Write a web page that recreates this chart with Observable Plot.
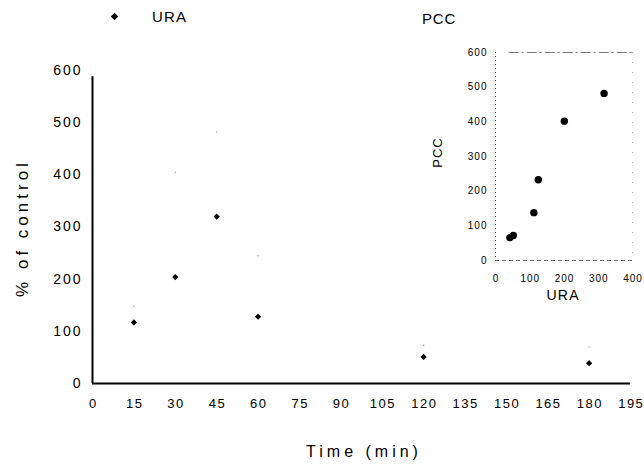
<!DOCTYPE html>
<html>
<head>
<meta charset="utf-8">
<script src="https://cdn.jsdelivr.net/npm/d3@7"></script>
<script src="https://cdn.jsdelivr.net/npm/@observablehq/plot@0.6"></script>
<style>
  html, body { margin: 0; padding: 0; background: #fff; }
  #wrap { position: relative; width: 644px; height: 466px; overflow: hidden;
          font-family: "Liberation Sans", Arial, Helvetica, sans-serif; color: #000; }
  #wrap svg { position: absolute; overflow: visible; }
  #wrap text { font-family: "Liberation Sans", Arial, Helvetica, sans-serif; }
  #main [aria-label="x-axis tick label"] text { letter-spacing: 1.5px; }
  #main [aria-label="y-axis tick label"] text { letter-spacing: 2px; }
  #inset [aria-label="x-axis tick label"] text,
  #inset [aria-label="y-axis tick label"] text { letter-spacing: 1px; }
  .lbl { position: absolute; white-space: nowrap; line-height: 1; transform: translate(-50%, -50%); }
  .lbl.rot { transform: translate(-50%, -50%) rotate(-90deg); }
</style>
</head>
<body>
<div id="wrap"></div>
<script>
// ---- main panel data: URA (% of control) vs time ----
const time = [15, 30, 45, 60, 120, 180];
const ura = [117, 204, 320, 128, 51, 39];
const uraUpper = [148, 405, 482, 245, 73, 70];   // faint error-bar tips
const xTicks = [0, 15, 30, 45, 60, 75, 90, 105, 120, 135, 150, 165, 180, 195];
const yTicks = [0, 100, 200, 300, 400, 500, 600];

// ---- inset data: PCC vs URA ----
const insetUra = [42, 52, 112, 125, 201, 317];
const insetPcc = [66, 72, 138, 233, 402, 482];
const insetXTicks = [0, 100, 200, 300, 400];
const insetYTicks = [0, 100, 200, 300, 400, 500, 600];

// ---- texts ----
const legendLabel = "URA";
const insetTitle = "PCC";
const yTitle = "% of control";
const xTitle = "Time (min)";
const insetYTitle = "PCC";
const insetXTitle = "URA";

const mainData = time.map((t, i) => ({t, v: ura[i], up: uraUpper[i]}));
const insetData = insetUra.map((u, i) => ({u, p: insetPcc[i]}));

const font = "Liberation Sans, Arial, Helvetica, sans-serif";

const main = Plot.plot({
  width: 644, height: 466,
  marginLeft: 92, marginRight: 14, marginTop: 70, marginBottom: 83,
  style: {fontFamily: font, background: "transparent", overflow: "visible"},
  x: {domain: [0, 195]},
  y: {domain: [0, 600]},
  marks: [
    Plot.axisX({ticks: xTicks, tickSize: 0, tickPadding: 15, fontSize: 13, dx: 0.75, label: null, tickFormat: d => d}),
    Plot.axisY({ticks: yTicks, tickSize: 0, tickPadding: 10, fontSize: 14, label: null, tickFormat: d => d}),
    Plot.ruleX([0], {stroke: "#000", strokeWidth: 2, y1: 0, y2: 588}),
    Plot.ruleY([0], {stroke: "#000", strokeWidth: 2}),
    Plot.dot(mainData, {x: "t", y: "up", r: 0.8, fill: "#aaa", stroke: null}),
    Plot.dot(mainData, {x: "t", y: "v", symbol: "diamond2", r: 2.8, fill: "#000", stroke: null}),
    // legend symbol
    Plot.dot([0], {frameAnchor: "top-left", dx: 22, dy: -54, symbol: "diamond2", r: 3.4, fill: "#000", stroke: null})
  ]
});
main.id = "main";
main.style.left = "0px"; main.style.top = "0px";

const inset = Plot.plot({
  width: 214, height: 290,
  marginLeft: 65, marginRight: 12, marginTop: 22, marginBottom: 60,
  style: {fontFamily: font, background: "transparent", overflow: "visible"},
  x: {domain: [0, 400]},
  y: {domain: [0, 600]},
  marks: [
    Plot.axisX({ticks: insetXTicks, tickSize: 0, tickPadding: 14, fontSize: 10, dx: 0.5, label: null, tickFormat: d => d}),
    Plot.axisY({ticks: insetYTicks, tickSize: 0, tickPadding: 8, fontSize: 10, label: null, tickFormat: d => d}),
    Plot.ruleX([0], {stroke: "#444", strokeWidth: 0.9, strokeDasharray: "1,3"}),
    Plot.ruleX([400], {stroke: "#999", strokeWidth: 0.8, strokeDasharray: "1,9"}),
    Plot.ruleY([0], {stroke: "#444", strokeWidth: 0.8, strokeDasharray: "4,3"}),
    Plot.ruleY([600], {stroke: "#555", strokeWidth: 0.8, strokeDasharray: "10,3,2,3", x1: 40, x2: 400}),
    Plot.dot(insetData, {x: "u", y: "p", r: 3.7, fill: "#000", stroke: null})
  ]
});
inset.id = "inset";
inset.style.left = "430px"; inset.style.top = "30px";

const wrap = document.getElementById("wrap");
wrap.appendChild(main);
wrap.appendChild(inset);

function label(text, cx, cy, size, ls, rot) {
  const d = document.createElement("div");
  d.className = "lbl" + (rot ? " rot" : "");
  d.textContent = text;
  d.style.left = cx + "px";
  d.style.top = cy + "px";
  d.style.fontSize = size + "px";
  d.style.letterSpacing = ls + "px";
  d.style.paddingLeft = ls + "px"; // balance trailing letter-spacing
  wrap.appendChild(d);
  return d;
}
const l1 = document.createElement("div");
l1.className = "lbl"; l1.textContent = legendLabel;
l1.style.cssText = "left:152px;top:16px;font-size:15px;letter-spacing:1.2px;transform:translate(0,-50%);";
wrap.appendChild(l1);
const l2 = document.createElement("div");
l2.className = "lbl"; l2.textContent = insetTitle;
l2.style.cssText = "left:422px;top:18px;font-size:15px;letter-spacing:0.8px;transform:translate(0,-50%);";
wrap.appendChild(l2);
label(yTitle, 21.7, 229.5, 17, 4, true);
label(xTitle, 362, 452, 16, 4, false);
label(insetYTitle, 437, 152.5, 13, 1, true);
label(insetXTitle, 562.5, 295, 14, 1.2, false);
</script>
</body>
</html>
